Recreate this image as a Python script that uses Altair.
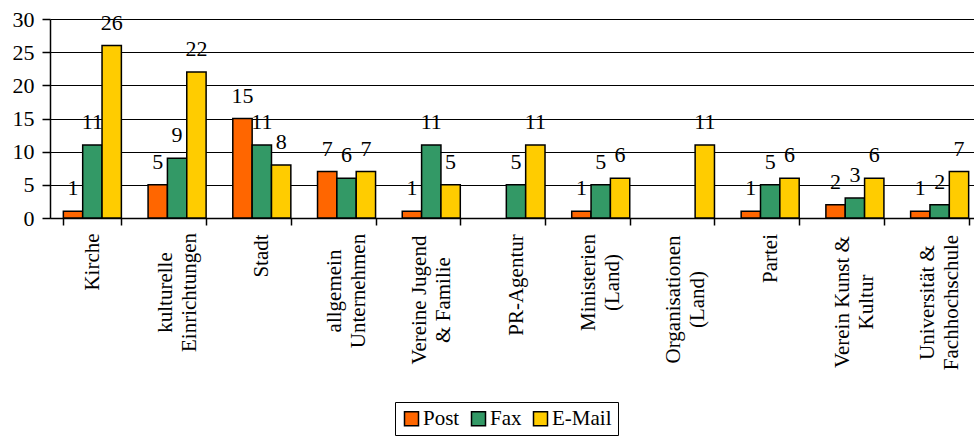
import json
import altair as alt
import pandas as pd

# Categories (line breaks mark the wrapped axis labels) and series
categories = [
    "Kirche",
    "kulturelle\nEinrichtungen",
    "Stadt",
    "allgemein\nUnternehmen",
    "Vereine Jugend\n& Familie",
    "PR-Agentur",
    "Ministerien\n(Land)",
    "Organisationen\n(Land)",
    "Partei",
    "Verein Kunst &\nKultur",
    "Universität &\nFachhochschule",
]
series = ["Post", "Fax", "E-Mail"]
post = [1, 5, 15, 7, 1, 0, 1, 0, 1, 2, 1]
fax = [11, 9, 11, 6, 11, 5, 5, 0, 5, 3, 2]
email = [26, 22, 8, 7, 5, 11, 6, 11, 6, 6, 7]
colors = ["#FF6600", "#339966", "#FFCC00"]

# Approximate pixel length of the longest line of each axis label,
# used to keep every label block flush with the axis while lines are centred
label_len = [57, 118, 45, 115, 133, 103, 98, 132, 50, 137, 138]

rows = []
for i, cat in enumerate(categories):
    for name, vals in zip(series, [post, fax, email]):
        if vals[i] > 0:
            rows.append({"Kategorie": cat, "Medium": name, "Anzahl": vals[i]})
df = pd.DataFrame(rows)

serif = "'Liberation Serif', 'Times New Roman', serif"
line_height = 24

pad_conditions = [
    {"test": f"datum.value === {json.dumps(cat)}", "value": 8 + L / 2}
    for cat, L in zip(categories, label_len)
]
# two-line labels sit half a line earlier so the pair is centred on its group
baseline_conditions = [
    {"test": f"datum.value === {json.dumps(cat)}", "value": "line-bottom"}
    for cat in categories
    if "\n" in cat
]

x_axis = alt.Axis(
    title=None,
    labelExpr="split(datum.label, '\\n')",
    labelAngle=270,
    labelAlign="center",
    labelBaseline={"condition": baseline_conditions, "value": "middle"},
    labelPadding={"condition": pad_conditions, "value": 8},
    labelLineHeight=line_height,
    labelFont=serif,
    labelFontSize=21,
    labelColor="black",
    labelOverlap=False,
    labelLimit=0,
    tickBand="extent",
    tickColor="black",
    tickSize=7,
    tickWidth=1.5,
    domainColor="black",
    domainWidth=1.5,
    grid=False,
)

y_axis = alt.Axis(
    title=None,
    values=[0, 5, 10, 15, 20, 25, 30],
    labelFont=serif,
    labelFontSize=22,
    labelColor="black",
    labelPadding=8,
    tickColor="black",
    tickSize=8,
    tickWidth=1.5,
    domainColor="black",
    domainWidth=1.5,
    grid=True,
    gridColor="black",
    gridWidth=1.2,
)

base = alt.Chart(df).encode(
    x=alt.X(
        "Kategorie:N",
        sort=categories,
        scale=alt.Scale(paddingInner=0.315, paddingOuter=0.1575, range=[0, 932]),
        axis=x_axis,
    ),
    xOffset=alt.XOffset(
        "Medium:N",
        sort=series,
        scale=alt.Scale(domain=series, paddingInner=0, paddingOuter=0),
    ),
    y=alt.Y("Anzahl:Q", scale=alt.Scale(domain=[0, 30], nice=False), axis=y_axis),
)

bars = base.mark_bar(stroke="black", strokeWidth=1.5).encode(
    color=alt.Color(
        "Medium:N",
        sort=series,
        scale=alt.Scale(domain=series, range=colors),
        legend=alt.Legend(
            title=None,
            orient="none",
            legendX=345,
            legendY=383,
            direction="horizontal",
            symbolType="square",
            symbolSize=196,
            symbolStrokeColor="black",
            symbolStrokeWidth=1.5,
            symbolOpacity=1,
            labelFont=serif,
            labelFontSize=21,
            labelColor="black",
            labelOffset=1,
            columnPadding=8,
            strokeColor="black",
            fillColor="white",
            padding=6,
        ),
    )
)

labels = base.mark_text(
    font=serif, fontSize=22, baseline="alphabetic", dy=-16, color="black"
).encode(text="Anzahl:Q")

chart = (
    alt.layer(bars, labels)
    .properties(
        width=924,
        height=199,
        autosize=alt.AutoSizeParams(type="none"),
        padding={"left": 50, "top": 19, "right": 0, "bottom": 220},
        background="white",
    )
    .configure(font=serif)
    .configure_view(strokeWidth=0)
)

chart.save("out.html", embed_options={"renderer": "svg", "actions": False})
